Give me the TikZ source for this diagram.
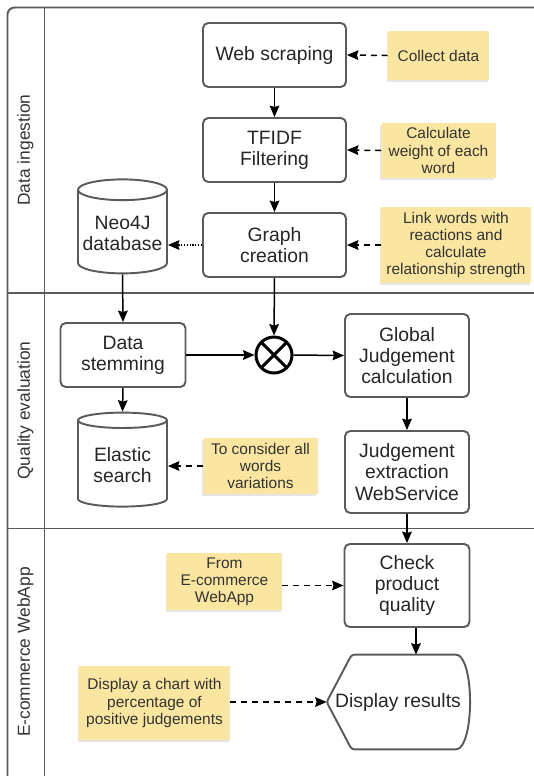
\documentclass[tikz,border=0pt]{standalone}
\usepackage{fontspec}
\setmainfont{Liberation Sans}
\usetikzlibrary{arrows.meta,calc,positioning,shapes.geometric,shadows}
\definecolor{notefill}{RGB}{250,230,160}
\definecolor{edgegray}{RGB}{90,90,90}

\begin{document}
\begin{tikzpicture}[
  every node/.style={font=\fontsize{11}{12}\selectfont},
  stepbox/.style={rectangle,rounded corners=3pt,draw=edgegray,line width=1.1pt,
                  fill=white,align=center,text=black!85,inner sep=1pt,
                  minimum width=2.48cm,minimum height=1.66cm},
  dbnode/.style={cylinder,shape border rotate=90,aspect=0.25,draw=edgegray,
                 line width=1.1pt,fill=white,align=center,text=black!85,
                 inner sep=1pt,minimum width=1.78cm,minimum height=1.88cm},
  notebox/.style={rectangle,fill=notefill,align=center,text=black!80,
                  font=\fontsize{8.8}{9.7}\selectfont,inner sep=1pt,
                  drop shadow={shadow xshift=-0.8pt,shadow yshift=-1.2pt,
                               opacity=0.2}},
  joinnode/.style={circle,draw=black,line width=1.7pt,minimum size=0.72cm,
                   inner sep=0pt,
                   path picture={\draw[line width=1.7pt]
                     (path picture bounding box.north west) --
                     (path picture bounding box.south east)
                     (path picture bounding box.south west) --
                     (path picture bounding box.north east);}},
  lanelabel/.style={rotate=90,font=\fontsize{9.9}{11}\selectfont,text=black!80},
  laneline/.style={draw=edgegray,line width=1.1pt},
  flowarrow/.style={-{Stealth[length=6.5pt,width=5.5pt,inset=0.8pt]},
                    line width=0.85pt},
  notearrow/.style={flowarrow,dash pattern=on 3.4pt off 2.8pt},
  linkarrow/.style={flowarrow,dash pattern=on 0.7pt off 0.9pt}
]
\clip (0,0) rectangle (10.68,-15.52);

% swimlanes
\draw[laneline,rounded corners=4pt] (0.15,-15.8) |- (11,-0.15);
\draw[laneline] (0.89,-0.15) -- (0.89,-15.8);
\draw[laneline] (0.15,-5.86) -- (11,-5.86);
\draw[laneline] (0.15,-10.57) -- (11,-10.57);

\node[lanelabel] (lane1) at (0.51,-3.00) {Data ingestion};
\node[lanelabel] (lane2) at (0.51,-8.21) {Quality evaluation};
\node[lanelabel] (lane3) at (0.51,-13.04) {E-commerce WebApp};

% data ingestion
\node[stepbox,minimum width=2.86cm,minimum height=1.28cm] (web)
  at (5.49,-1.10) {Web scraping};
\node[stepbox,minimum width=2.86cm,minimum height=1.28cm] (tfidf)
  at (5.49,-3.00) {TFIDF\\Filtering};
\node[stepbox,minimum width=2.86cm,minimum height=1.28cm] (graph)
  at (5.49,-4.90) {Graph\\creation};
\node[dbnode] (neo) at (2.45,-4.67) {Neo4J\\database};

\node[notebox,minimum width=2.02cm,minimum height=0.98cm] (collect)
  at (8.77,-1.11) {Collect data};
\node[notebox,minimum width=2.28cm,minimum height=1.10cm] (weight)
  at (8.77,-3.01) {Calculate\\weight of each\\word};
\node[notebox,minimum width=3.00cm,minimum height=1.52cm] (link)
  at (9.12,-4.90) {Link words with\\reactions and\\calculate\\relationship strength};

\draw[flowarrow] (web) -- (tfidf);
\draw[flowarrow] (tfidf) -- (graph);
\draw[linkarrow] (graph.west) -- (neo.east |- graph.west);
\draw[notearrow] (collect.west) -- (web.east);
\draw[notearrow] (weight.west) -- (tfidf.east);
\draw[notearrow] (link.west) -- (graph.east);

% quality evaluation
\node[stepbox,minimum width=2.50cm,minimum height=1.28cm] (stem)
  at (2.46,-7.10) {Data\\stemming};
\node[joinnode] (join) at (5.48,-7.10) {};
\node[stepbox] (glob) at (8.14,-7.11) {Global\\Judgement\\calculation};
\node[stepbox,minimum height=1.64cm] (judge)
  at (8.14,-9.44) {Judgement\\extraction\\WebService};
\node[dbnode] (elastic) at (2.45,-9.30) {Elastic\\search};
\node[notebox,minimum width=2.28cm,minimum height=1.12cm] (consider)
  at (5.21,-9.32) {To consider all\\words\\variations};

\draw[flowarrow] (neo.south) -- (stem.north);
\draw[flowarrow] (graph.south) -- (join.north);
\draw[flowarrow] (stem.east) -- (join.west);
\draw[flowarrow] (join.east) -- (glob.west);
\draw[flowarrow] (stem.south) -- (elastic.north);
\draw[flowarrow] (glob.south) -- (judge.north);
\draw[notearrow] (consider.west) -- (elastic.east |- consider.west);

% e-commerce webapp
\node[stepbox,minimum width=2.50cm] (check)
  at (8.14,-11.71) {Check\\product\\quality};
\node[minimum width=2.84cm,minimum height=1.88cm,inner sep=0pt,text=black!85]
  (disp) at (7.96,-14.04) {Display results};
\draw[draw=edgegray,line width=1.1pt,rounded corners=1.5pt]
  (disp.west) -- ([xshift=0.5cm]disp.north west)
  -- ([xshift=-0.22cm]disp.north east)
  .. controls ([xshift=0.08cm,yshift=-0.3cm]disp.north east)
  and ([xshift=0.08cm,yshift=0.3cm]disp.south east)
  .. ([xshift=-0.22cm]disp.south east)
  -- ([xshift=0.5cm]disp.south west) -- cycle;
\node[notebox,minimum width=2.30cm,minimum height=1.14cm] (from)
  at (4.49,-11.63) {From\\E-commerce\\WebApp};
\node[notebox,minimum width=3.02cm,minimum height=1.48cm] (chart)
  at (3.09,-14.06) {Display a chart with\\percentage of\\positive judgements};

\draw[flowarrow] (judge.south) -- (check.north);
\draw[flowarrow] ([xshift=1.8mm]check.south) -- ([xshift=1.8mm]check.south |- disp.north);
\draw[notearrow] (from.east |- check.west) -- (check.west);
\draw[notearrow] (chart.east |- disp.west) -- (disp.west);
\end{tikzpicture}
\end{document}
